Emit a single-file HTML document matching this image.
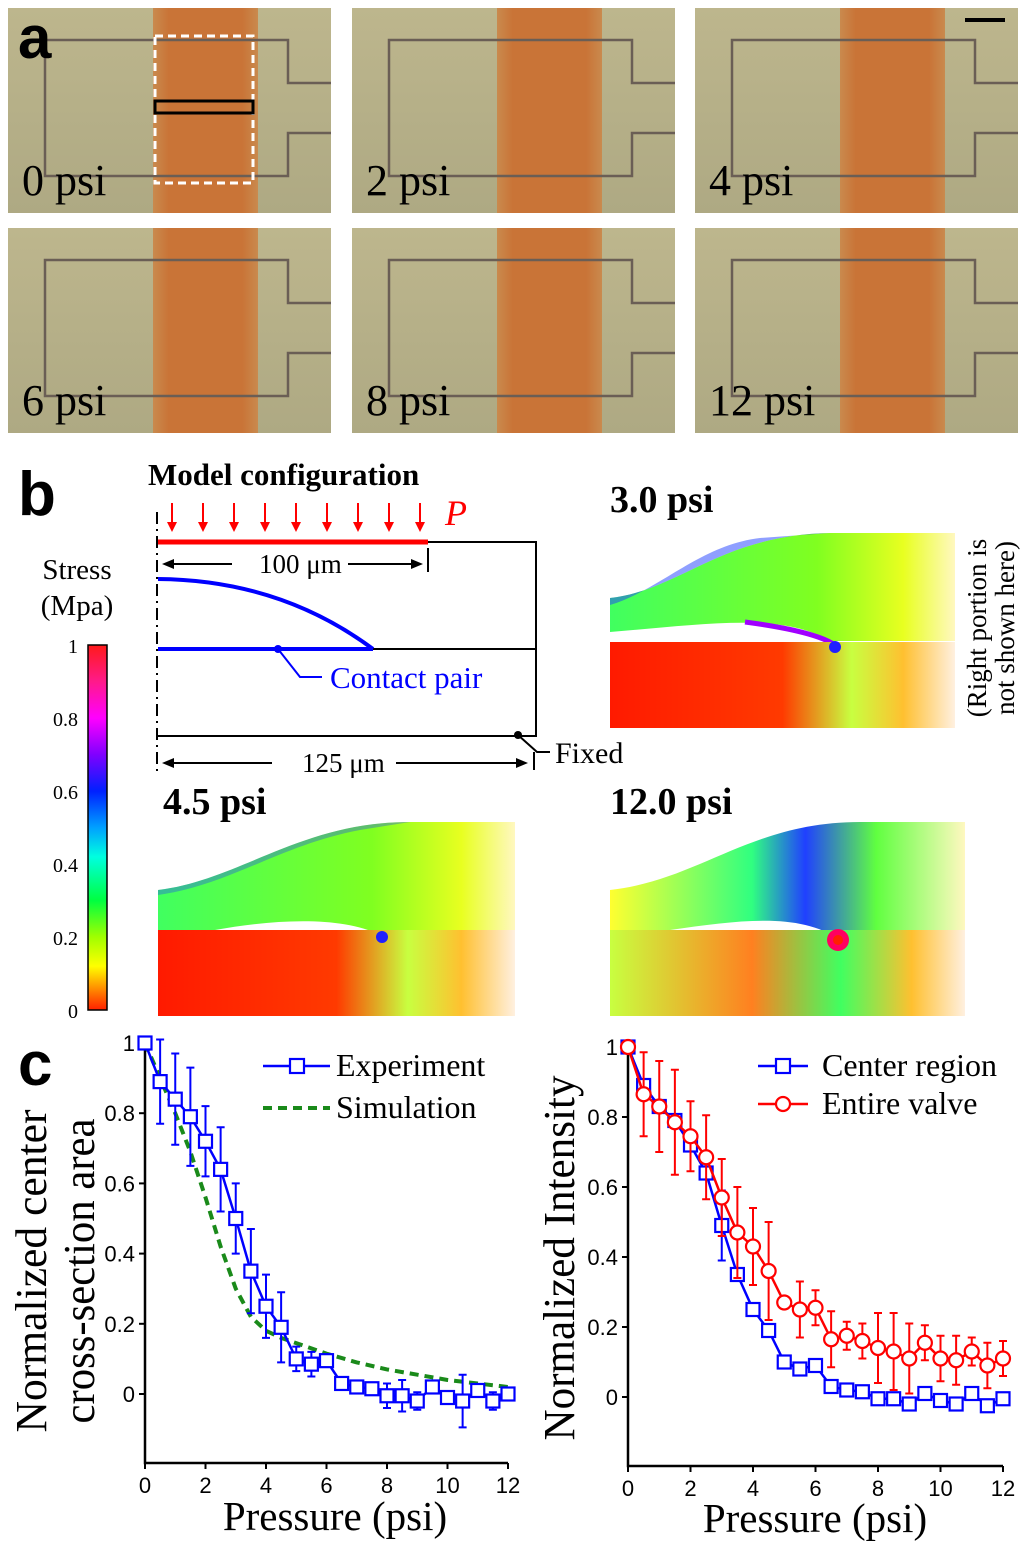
<!DOCTYPE html>
<html><head><meta charset="utf-8"><style>
html,body{margin:0;padding:0;background:#fff}
svg{display:block}
text{font-family:"Liberation Serif",serif}
.sans{font-family:"Liberation Sans",sans-serif}
</style></head><body>
<svg id="fig" width="1024" height="1548" viewBox="0 0 1024 1548" xmlns="http://www.w3.org/2000/svg">
<defs>
<linearGradient id="photoBg" x1="0" y1="0" x2="0" y2="1"><stop offset="0" stop-color="#bdb68d"/><stop offset="1" stop-color="#aea983"/></linearGradient>
<linearGradient id="band" x1="0" y1="0" x2="1" y2="0"><stop offset="0" stop-color="#c98a4e"/><stop offset="0.15" stop-color="#c97437"/><stop offset="0.85" stop-color="#c97437"/><stop offset="1" stop-color="#c98a4e"/></linearGradient>
<linearGradient id="cbar" x1="0" y1="0" x2="0" y2="1">
<stop offset="0" stop-color="#ff1a1a"/><stop offset="0.1" stop-color="#ff1a8a"/><stop offset="0.2" stop-color="#ff00ff"/><stop offset="0.3" stop-color="#8000ff"/><stop offset="0.4" stop-color="#0020ff"/><stop offset="0.5" stop-color="#00a0ff"/><stop offset="0.58" stop-color="#00ffe0"/><stop offset="0.7" stop-color="#00ff40"/><stop offset="0.8" stop-color="#a0ff00"/><stop offset="0.88" stop-color="#ffff00"/><stop offset="0.94" stop-color="#ff9000"/><stop offset="1" stop-color="#ff2000"/></linearGradient>
<linearGradient id="memb" x1="0" y1="0" x2="1" y2="0"><stop offset="0" stop-color="#40ff60"/><stop offset="0.6" stop-color="#80ff20"/><stop offset="0.85" stop-color="#e8ff20"/><stop offset="1" stop-color="#fff8c0"/></linearGradient>
<linearGradient id="blk" x1="0" y1="0" x2="1" y2="0"><stop offset="0" stop-color="#ff1a00"/><stop offset="0.5" stop-color="#ff3a00"/><stop offset="0.7" stop-color="#c8ff40"/><stop offset="0.85" stop-color="#ffc030"/><stop offset="1" stop-color="#fff0e0"/></linearGradient>
<linearGradient id="membB" x1="0" y1="0" x2="1" y2="0"><stop offset="0" stop-color="#ffff30"/><stop offset="0.4" stop-color="#30ff80"/><stop offset="0.55" stop-color="#2040ff"/><stop offset="0.75" stop-color="#60ff40"/><stop offset="1" stop-color="#fff8c0"/></linearGradient>
<linearGradient id="blkB" x1="0" y1="0" x2="1" y2="0"><stop offset="0" stop-color="#c8ff40"/><stop offset="0.4" stop-color="#ff8020"/><stop offset="0.65" stop-color="#40ff60"/><stop offset="0.85" stop-color="#ffc030"/><stop offset="1" stop-color="#fff0e0"/></linearGradient>
<g id="photo">
<rect x="0" y="0" width="323" height="205" fill="url(#photoBg)"/>
<rect x="145" y="0" width="105" height="205" fill="url(#band)"/>
<path d="M323 75 H280 V32 H37 V168 H280 V125 H323" fill="none" stroke="#6a5e55" stroke-width="2.5"/>
</g>
</defs>

<g>
<use href="#photo" x="8" y="8"/><use href="#photo" x="352" y="8"/><use href="#photo" x="695" y="8"/>
<use href="#photo" x="8" y="228"/><use href="#photo" x="352" y="228"/><use href="#photo" x="695" y="228"/>
<text x="18" y="58" class="sans" font-size="60" font-weight="bold">a</text>
<rect x="155" y="36" width="98" height="147" fill="none" stroke="#fff" stroke-width="3" stroke-dasharray="8,5"/>
<rect x="155" y="101" width="98" height="12" fill="none" stroke="#000" stroke-width="3"/>
<rect x="965" y="18" width="40" height="4" fill="#000"/>
<g font-size="44" fill="#000">
<text x="22" y="195">0 psi</text>
<text x="366" y="195">2 psi</text>
<text x="709" y="195">4 psi</text>
<text x="22" y="415">6 psi</text>
<text x="366" y="415">8 psi</text>
<text x="709" y="415">12 psi</text>
</g>
</g>

<g>
<text x="18" y="515" class="sans" font-size="62" font-weight="bold">b</text>
<text x="148" y="485" font-size="31" font-weight="bold">Model configuration</text>
<line x1="157" y1="512" x2="157" y2="772" stroke="#000" stroke-width="2" stroke-dasharray="12,5,2,5"/>
<g stroke="#f00" stroke-width="2">
<line x1="172" y1="503" x2="172" y2="527"/><line x1="203" y1="503" x2="203" y2="527"/><line x1="234" y1="503" x2="234" y2="527"/><line x1="265" y1="503" x2="265" y2="527"/><line x1="296" y1="503" x2="296" y2="527"/><line x1="327" y1="503" x2="327" y2="527"/><line x1="358" y1="503" x2="358" y2="527"/><line x1="389" y1="503" x2="389" y2="527"/><line x1="420" y1="503" x2="420" y2="527"/>
</g>
<g fill="#f00">
<path d="M167 522 L177 522 L172 532Z"/><path d="M198 522 L208 522 L203 532Z"/><path d="M229 522 L239 522 L234 532Z"/><path d="M260 522 L270 522 L265 532Z"/><path d="M291 522 L301 522 L296 532Z"/><path d="M322 522 L332 522 L327 532Z"/><path d="M353 522 L363 522 L358 532Z"/><path d="M384 522 L394 522 L389 532Z"/><path d="M415 522 L425 522 L420 532Z"/>
</g>
<text x="445" y="525" font-size="36" font-style="italic" fill="#f00">P</text>
<line x1="158" y1="542" x2="428" y2="542" stroke="#f00" stroke-width="5"/>
<path d="M428 542 H536 V736 H158" fill="none" stroke="#000" stroke-width="2"/>
<line x1="158" y1="649" x2="536" y2="649" stroke="#000" stroke-width="2"/>
<path d="M158 579 Q280 580 373 649" fill="none" stroke="#00f" stroke-width="4"/>
<line x1="158" y1="649" x2="373" y2="649" stroke="#00f" stroke-width="4"/>
<circle cx="278" cy="649" r="4" fill="#00f"/>
<path d="M278 649 L300 677 H322" fill="none" stroke="#00f" stroke-width="2"/>
<text x="330" y="688" font-size="31" fill="#00f">Contact pair</text>
<line x1="428" y1="548" x2="428" y2="572" stroke="#000" stroke-width="2"/>
<line x1="170" y1="564" x2="232" y2="564" stroke="#000" stroke-width="2"/><path d="M162 564 L174 559 L174 569Z"/>
<text x="259" y="573" font-size="27">100 μm</text>
<line x1="348" y1="564" x2="415" y2="564" stroke="#000" stroke-width="2"/><path d="M423 564 L411 559 L411 569Z"/>
<line x1="534" y1="752" x2="534" y2="770" stroke="#000" stroke-width="2"/>
<line x1="170" y1="763" x2="272" y2="763" stroke="#000" stroke-width="2"/><path d="M162 763 L174 758 L174 768Z"/>
<text x="302" y="772" font-size="27">125 μm</text>
<line x1="396" y1="763" x2="520" y2="763" stroke="#000" stroke-width="2"/><path d="M528 763 L516 758 L516 768Z"/>
<circle cx="518" cy="735" r="4" fill="#000"/>
<path d="M518 735 L537 752 H550" fill="none" stroke="#000" stroke-width="2"/>
<text x="555" y="763" font-size="30">Fixed</text>

<text x="77" y="579" font-size="29" text-anchor="middle">Stress</text>
<text x="77" y="615" font-size="29" text-anchor="middle">(Mpa)</text>
<rect x="88" y="645" width="19" height="365" fill="url(#cbar)" stroke="#000" stroke-width="1.5"/>
<g class="sans" font-size="20" text-anchor="end">
<text x="78" y="653">1</text><text x="78" y="726">0.8</text><text x="78" y="799">0.6</text><text x="78" y="872">0.4</text><text x="78" y="945">0.2</text><text x="78" y="1018">0</text>
</g>

<text x="610" y="512" font-size="38" font-weight="bold">3.0 psi</text>
<path d="M610 598 C680 590 720 535 830 533 L955 533 L955 641 L610 641Z" fill="url(#memb)"/>
<path d="M610 598 C680 590 720 535 830 533 L760 538 C700 545 660 590 610 605Z" fill="#2040ff" opacity="0.5"/>
<path d="M610 632 C700 625 790 610 835 645 L830 641 L610 641Z" fill="#fff"/>
<path d="M745 622 C790 628 820 635 835 645" stroke="#a000ff" stroke-width="5" fill="none"/>
<rect x="610" y="642" width="345" height="86" fill="url(#blk)"/>
<circle cx="835" cy="647" r="6" fill="#2020ff"/>
<text transform="translate(986,628) rotate(-90)" font-size="27" text-anchor="middle">(Right portion is</text>
<text transform="translate(1014,628) rotate(-90)" font-size="27" text-anchor="middle">not shown here)</text>

<text x="163" y="814" font-size="38" font-weight="bold">4.5 psi</text>
<path d="M158 890 C240 880 300 822 410 822 L515 822 L515 930 L158 930Z" fill="url(#memb)"/>
<path d="M158 890 C240 880 300 822 410 822 L360 830 C280 845 230 885 158 895Z" fill="#2040ff" opacity="0.35"/>
<path d="M215 930 C270 920 340 915 380 935 L380 930Z" fill="#fff"/>
<rect x="158" y="930" width="357" height="86" fill="url(#blk)"/>
<circle cx="382" cy="937" r="6" fill="#2020ff"/>

<text x="610" y="814" font-size="38" font-weight="bold">12.0 psi</text>
<path d="M610 890 C700 880 750 822 860 822 L965 822 L965 930 L610 930Z" fill="url(#membB)"/>
<path d="M670 930 C740 920 800 912 840 940 L840 930Z" fill="#fff"/>
<rect x="610" y="930" width="355" height="86" fill="url(#blkB)"/>
<circle cx="838" cy="940" r="11" fill="#ff0060"/>
<circle cx="838" cy="940" r="5" fill="#ff2000"/>
</g>

<g>
<text x="18" y="1085" class="sans" font-size="62" font-weight="bold">c</text>
<g id="chartL"></g>
<g id="chartR"></g>
</g>
</svg>
<script>
const xs = [0,0.5,1,1.5,2,2.5,3,3.5,4,4.5,5,5.5,6,6.5,7,7.5,8,8.5,9,9.5,10,10.5,11,11.5,12];
const expVals = [1,0.89,0.84,0.79,0.72,0.64,0.50,0.35,0.25,0.19,0.10,0.085,0.095,0.03,0.02,0.015,-0.005,-0.005,-0.02,0.02,-0.01,-0.02,0.01,-0.02,0];
const expErr = [0,0.12,0.13,0.14,0.10,0.12,0.10,0.12,0.09,0.10,0.035,0.035,0,0,0,0,0.035,0.045,0.025,0,0,0.075,0,0.025,0];
const simX = [0,0.5,1,1.5,2,2.5,3,3.5,4,4.5,5,6,7,8,9,10,11,12];
const simVals = [1,0.9,0.8,0.69,0.56,0.42,0.30,0.22,0.18,0.16,0.145,0.115,0.09,0.07,0.055,0.04,0.03,0.02];
const centerVals = [1,0.89,0.83,0.79,0.72,0.64,0.49,0.35,0.25,0.19,0.10,0.08,0.09,0.03,0.02,0.015,-0.005,-0.005,-0.02,0.01,-0.01,-0.02,0.01,-0.025,-0.005];
const centerErr = [0,0,0,0,0,0,0.1,0,0,0,0,0,0,0,0,0,0,0,0,0,0,0,0,0,0];
const valveVals = [1,0.865,0.83,0.785,0.745,0.685,0.57,0.47,0.43,0.36,0.27,0.25,0.255,0.165,0.175,0.16,0.14,0.13,0.11,0.155,0.11,0.105,0.13,0.09,0.11];
const valveErr = [0,0.12,0.13,0.15,0.10,0.12,0.11,0.13,0.11,0.14,0,0.08,0.05,0.08,0.04,0.05,0.10,0.11,0.10,0.05,0.065,0.07,0.04,0.065,0.05];
const xTicks = [0,2,4,6,8,10,12];
const yTicks = [0,0.2,0.4,0.6,0.8,1];
const yTickLabels = ["0","0.2","0.4","0.6","0.8","1"];
const NS='http://www.w3.org/2000/svg';
function mk(parent,tag,attrs,txt){const e=document.createElementNS(NS,tag);for(const k in attrs)e.setAttribute(k,attrs[k]);if(txt!==undefined)e.textContent=txt;parent.appendChild(e);return e;}
function axes(g,x0,x1,y0,y1,bottom,top){
  const X=v=>x0+v/12*(x1-x0), Y=v=>y0-v*(y0-y1);
  mk(g,'path',{d:`M${x0} ${top} V${bottom} H${x1}`,fill:'none',stroke:'#000','stroke-width':2.5});
  xTicks.forEach(t=>{mk(g,'line',{x1:X(t),x2:X(t),y1:bottom,y2:bottom+6,stroke:'#000','stroke-width':2});
    const l=mk(g,'text',{x:X(t),y:bottom+30,'text-anchor':'middle','font-size':22,class:'sans'},String(t));
    
    });
  yTicks.forEach((t,i)=>{mk(g,'line',{x1:x0-6,x2:x0,y1:Y(t),y2:Y(t),stroke:'#000','stroke-width':2});
    const l=mk(g,'text',{x:x0-10,y:Y(t)+8,'text-anchor':'end','font-size':22,class:'sans'},yTickLabels[i]);
    
    });
  return [X,Y];
}
function series(g,X,Y,xv,vals,errs,color,marker,name){
  const sg=mk(g,'g',{});
  
  
  vals.forEach((v,i)=>{if(errs[i]>0){const x=X(xv[i]);mk(sg,'path',{d:`M${x} ${Y(v-errs[i])} V${Y(v+errs[i])} M${x-4} ${Y(v-errs[i])} H${x+4} M${x-4} ${Y(v+errs[i])} H${x+4}`,stroke:color,'stroke-width':2,fill:'none'});}});
  mk(sg,'polyline',{points:vals.map((v,i)=>X(xv[i])+','+Y(v)).join(' '),fill:'none',stroke:color,'stroke-width':2.5});
  vals.forEach((v,i)=>{const x=X(xv[i]),y=Y(v);let m;
    if(marker==='sq')m=mk(sg,'rect',{x:x-6.5,y:y-6.5,width:13,height:13,fill:'#fff',stroke:color,'stroke-width':2.2});
    else m=mk(sg,'circle',{cx:x,cy:y,r:7,fill:'#fff',stroke:color,'stroke-width':2.2});
    
    });
}
const gL=document.getElementById('chartL');
let [XL,YL]=axes(gL,145,508,1394,1043,1463,1040);
const sim=mk(gL,'polyline',{points:simVals.map((v,i)=>XL(simX[i])+','+YL(v)).join(' '),fill:'none',stroke:'#1a8a1a','stroke-width':4,'stroke-dasharray':'9,6'});


series(gL,XL,YL,xs,expVals,expErr,'#0000ff','sq','experiment-series');
mk(gL,'line',{x1:263,x2:330,y1:1066,y2:1066,stroke:'#00f','stroke-width':2.5});
mk(gL,'rect',{x:290,y:1059,width:14,height:14,fill:'#fff',stroke:'#00f','stroke-width':2.2});
mk(gL,'text',{x:336,y:1076,'font-size':32},'Experiment');
mk(gL,'line',{x1:263,x2:330,y1:1108,y2:1108,stroke:'#1a8a1a','stroke-width':4,'stroke-dasharray':'9,6'});
mk(gL,'text',{x:336,y:1118,'font-size':32},'Simulation');
mk(gL,'text',{x:335,y:1530,'font-size':41,'text-anchor':'middle'},'Pressure (psi)');
mk(gL,'text',{transform:'translate(46,1271) rotate(-90)','font-size':44,'text-anchor':'middle',textLength:323,lengthAdjust:'spacingAndGlyphs'},'Normalized center');
mk(gL,'text',{transform:'translate(94,1271) rotate(-90)','font-size':44,'text-anchor':'middle',textLength:305,lengthAdjust:'spacingAndGlyphs'},'cross-section area');

const gR=document.getElementById('chartR');
let [XR,YR]=axes(gR,628,1003,1397,1047,1466,1043);
series(gR,XR,YR,xs,centerVals,centerErr,'#0000ff','sq','center-region-series');
series(gR,XR,YR,xs,valveVals,valveErr,'#ff0000','ci','entire-valve-series');
mk(gR,'line',{x1:758,x2:808,y1:1066,y2:1066,stroke:'#00f','stroke-width':2.5});
mk(gR,'rect',{x:776,y:1059,width:14,height:14,fill:'#fff',stroke:'#00f','stroke-width':2.2});
mk(gR,'text',{x:822,y:1076,'font-size':32},'Center region');
mk(gR,'line',{x1:758,x2:808,y1:1104,y2:1104,stroke:'#f00','stroke-width':2.5});
mk(gR,'circle',{cx:783,cy:1104,r:7,fill:'#fff',stroke:'#f00','stroke-width':2.2});
mk(gR,'text',{x:822,y:1114,'font-size':32},'Entire valve');
mk(gR,'text',{x:815,y:1532,'font-size':41,'text-anchor':'middle'},'Pressure (psi)');
mk(gR,'text',{transform:'translate(574,1258) rotate(-90)','font-size':44,'text-anchor':'middle',textLength:365,lengthAdjust:'spacingAndGlyphs'},'Normalized Intensity');
</script>
</body></html>
